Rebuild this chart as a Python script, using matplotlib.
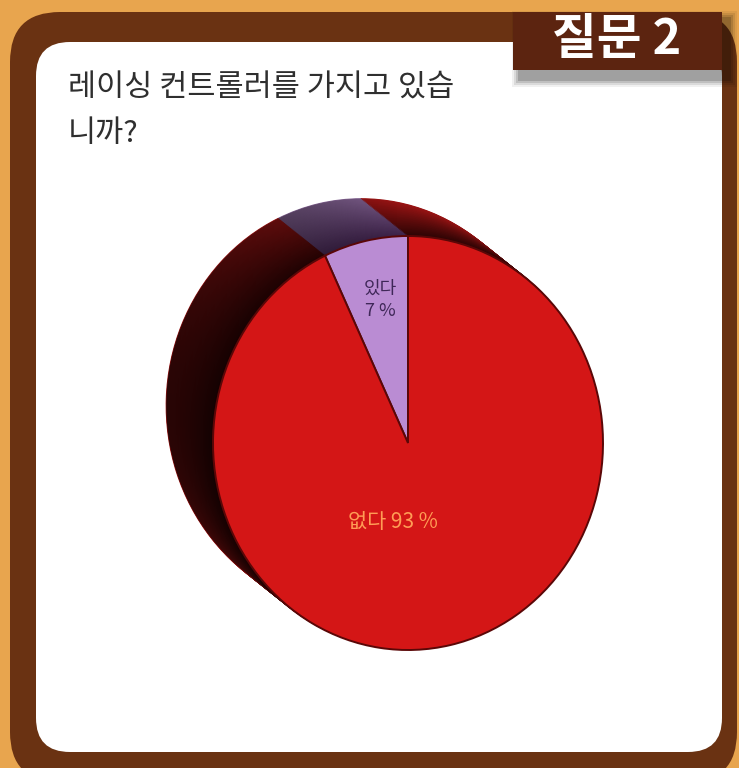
import numpy as np
import matplotlib
matplotlib.use("Agg")
import matplotlib.pyplot as plt
from matplotlib.patches import FancyBboxPatch, Rectangle, Polygon
from matplotlib.colors import to_rgb

plt.rcParams['font.family'] = ['Noto Sans CJK KR', 'DejaVu Sans']

# ---- content ----
question_tag = "질문 2"
title_lines = ["레이싱 컨트롤러를 가지고 있습", "니까?"]
answers = ["있다", "없다"]
shares = [7, 93]

face_colors = ["#BA8CD3", "#D41616"]
side_back_colors = ["#80608f", "#9a1414"]
side_front_colors = ["#3c2248", "#2e0404"]
label_colors = ["#3f2758", "#FF9C55"]

W, H = 739, 768
fig = plt.figure(figsize=(W / 100, H / 100), dpi=100)
fig.patch.set_facecolor("#E8A54E")

# ---- frame, panel and tag (pixel coordinates) ----
bg = fig.add_axes([0, 0, 1, 1])
bg.set_xlim(0, W)
bg.set_ylim(H, 0)
bg.axis("off")

bg.add_patch(FancyBboxPatch((10, 12), 727, 770,
                            boxstyle="round,pad=0,rounding_size=50",
                            fc="#6A3212", ec="none"))
bg.add_patch(FancyBboxPatch((36, 42), 686, 710,
                            boxstyle="round,pad=0,rounding_size=34",
                            fc="white", ec="none"))

# soft drop shadow under the tag
for k, a in enumerate([0.06, 0.09, 0.12, 0.16]):
    g = 8 - 2 * k
    bg.add_patch(Rectangle((520 - g, 19 - g), 209 + 2 * g, 60 + 2 * g,
                           fc="black", alpha=a, ec="none"))
bg.add_patch(Rectangle((513, 12), 209, 58, fc="#5C2410", ec="none"))
bg.text(617, 40, question_tag, color="white", fontsize=35, fontweight="bold",
        ha="center", va="center")

bg.text(68, 88, title_lines[0], fontsize=22, color="#2f2f2f", va="center")
bg.text(68, 134, title_lines[1], fontsize=22, color="#2f2f2f", va="center")

# ---- 3D-looking pie ----
cx_px, cy_px, rx_px, ry_px = 408, 443, 195, 207
xlim = (-cx_px / rx_px, (W - cx_px) / rx_px)
ylim = ((cy_px - H) / ry_px, cy_px / ry_px)

pa = fig.add_axes([0, 0, 1, 1])
pa.patch.set_alpha(0)

depth = (-0.24, 0.18)
n_layers = 45


def mix(c1, c2, t):
    a, b = np.array(to_rgb(c1)), np.array(to_rgb(c2))
    return tuple(a + (b - a) * t)


for i in range(n_layers):
    t = i / n_layers
    cols = [mix(side_back_colors[j], side_front_colors[j], t) for j in range(2)]
    wedges, _ = pa.pie(shares, colors=cols, startangle=90, counterclock=True,
                       center=(depth[0] * (1 - t), depth[1] * (1 - t)), radius=1,
                       wedgeprops=dict(zorder=1))
    for w, c in zip(wedges, cols):
        w.set_edgecolor(c)
        w.set_linewidth(0.8)

# darker shading on the left part of the rim
theta = np.linspace(0, 2 * np.pi, 200)
pts = np.vstack([np.c_[np.cos(theta), np.sin(theta)],
                 np.c_[np.cos(theta) + depth[0], np.sin(theta) + depth[1]]])


def hull(p):
    p = sorted(map(tuple, p))

    def cross(o, a, b):
        return (a[0] - o[0]) * (b[1] - o[1]) - (a[1] - o[1]) * (b[0] - o[0])
    lower, upper = [], []
    for q in p:
        while len(lower) >= 2 and cross(lower[-2], lower[-1], q) <= 0:
            lower.pop()
        lower.append(q)
    for q in reversed(p):
        while len(upper) >= 2 and cross(upper[-2], upper[-1], q) <= 0:
            upper.pop()
        upper.append(q)
    return np.array(lower[:-1] + upper[:-1])


rim = Polygon(hull(pts), closed=True, transform=pa.transData, fc="none", ec="none")
pa.add_patch(rim)
ramp = np.zeros((1, 256, 4))
ramp[..., 3] = np.clip(np.linspace(0.75, -0.1, 256), 0, 1)
img = pa.imshow(ramp, extent=((160 - cx_px) / rx_px, (430 - cx_px) / rx_px, ylim[0], ylim[1]),
                aspect="auto", zorder=2, interpolation="bilinear")
img.set_clip_path(rim)

# front face
pa.pie(shares, colors=face_colors, startangle=90, counterclock=True,
       center=(0, 0), radius=1,
       wedgeprops=dict(edgecolor="#5a0707", linewidth=1.4, zorder=3))

pa.set_aspect("auto")
pa.set_xlim(*xlim)
pa.set_ylim(*ylim)
pa.axis("off")

# labels
pa.text((380 - cx_px) / rx_px, (cy_px - 300) / ry_px, f"{answers[0]}\n{shares[0]} %",
        color=label_colors[0], fontsize=13, ha="center", va="center",
        linespacing=1.25, zorder=4)
pa.text((393 - cx_px) / rx_px, (cy_px - 522) / ry_px, f"{answers[1]} {shares[1]} %",
        color=label_colors[1], fontsize=15, ha="center", va="center", zorder=4)

fig.savefig("out.png", dpi=100, facecolor=fig.get_facecolor())
